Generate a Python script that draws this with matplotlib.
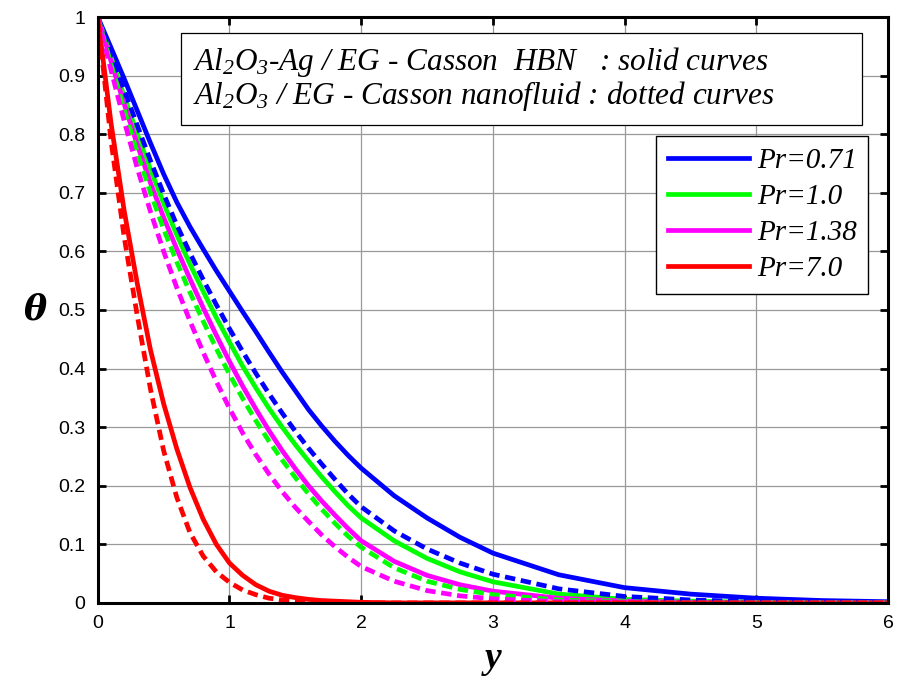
import matplotlib
matplotlib.use("Agg")
import matplotlib.pyplot as plt
from matplotlib.patches import Rectangle

# sampled y positions
y = [0, 0.1, 0.2, 0.3, 0.4, 0.5, 0.6, 0.7, 0.8, 0.9, 1.0, 1.1, 1.2, 1.3, 1.4, 1.5, 1.6, 1.7,
     1.8, 1.9, 2.0, 2.25, 2.5, 2.75, 3.0, 3.5, 4.0, 4.5, 5.0, 5.5, 6.0]

# Al2O3-Ag / EG - Casson HBN (solid)
hbn_071 = [1.0, 0.948, 0.895, 0.84, 0.785, 0.732, 0.684, 0.642, 0.604, 0.567, 0.532, 0.497,
           0.463, 0.428, 0.394, 0.362, 0.33, 0.302, 0.276, 0.252, 0.23, 0.183, 0.145, 0.112,
           0.085, 0.048, 0.026, 0.015, 0.008, 0.004, 0.002]
hbn_10 = [1.0, 0.932, 0.865, 0.8, 0.74, 0.682, 0.628, 0.578, 0.532, 0.487, 0.445, 0.404, 0.367,
          0.332, 0.3, 0.27, 0.242, 0.215, 0.19, 0.166, 0.145, 0.106, 0.076, 0.053, 0.036,
          0.015, 0.006, 0.003, 0.001, 0.0, 0.0]
hbn_138 = [1.0, 0.925, 0.852, 0.782, 0.717, 0.658, 0.604, 0.553, 0.504, 0.457, 0.412, 0.37,
           0.331, 0.294, 0.26, 0.229, 0.2, 0.174, 0.15, 0.127, 0.106, 0.071, 0.047, 0.031, 0.02,
           0.008, 0.003, 0.001, 0.0, 0.0, 0.0]
hbn_70 = [1.0, 0.82, 0.67, 0.545, 0.432, 0.34, 0.263, 0.197, 0.143, 0.1, 0.068, 0.047, 0.031,
          0.02, 0.013, 0.009, 0.006, 0.004, 0.003, 0.002, 0.001, 0.0, 0.0, 0.0, 0.0, 0.0, 0.0,
          0.0, 0.0, 0.0, 0.0]

# Al2O3 / EG - Casson nanofluid (dashed)
nf_071 = [1.0, 0.938, 0.876, 0.815, 0.755, 0.698, 0.645, 0.597, 0.552, 0.509, 0.468, 0.429,
          0.392, 0.357, 0.324, 0.293, 0.264, 0.237, 0.211, 0.186, 0.164, 0.123, 0.092, 0.068,
          0.049, 0.024, 0.011, 0.005, 0.002, 0.001, 0.0]
nf_10 = [1.0, 0.92, 0.842, 0.768, 0.7, 0.638, 0.582, 0.53, 0.481, 0.434, 0.39, 0.349, 0.311,
         0.276, 0.244, 0.214, 0.186, 0.16, 0.136, 0.114, 0.095, 0.06, 0.037, 0.023, 0.014,
         0.005, 0.002, 0.0, 0.0, 0.0, 0.0]
nf_138 = [1.0, 0.91, 0.823, 0.742, 0.668, 0.6, 0.538, 0.481, 0.428, 0.378, 0.332, 0.29, 0.253,
          0.22, 0.19, 0.163, 0.139, 0.116, 0.096, 0.078, 0.062, 0.037, 0.021, 0.012, 0.007,
          0.002, 0.001, 0.0, 0.0, 0.0, 0.0]
nf_70 = [1.0, 0.79, 0.625, 0.49, 0.365, 0.26, 0.18, 0.12, 0.08, 0.053, 0.035, 0.022, 0.014,
         0.008, 0.005, 0.003, 0.002, 0.001, 0.0, 0.0, 0.0, 0.0, 0.0, 0.0, 0.0, 0.0, 0.0, 0.0,
         0.0, 0.0, 0.0]

labels = ["Pr=0.71", "Pr=1.0", "Pr=1.38", "Pr=7.0"]
colors = ["#0000ff", "#00ff00", "#ff00ff", "#ff0000"]
solid = [hbn_071, hbn_10, hbn_138, hbn_70]
dashed = [nf_071, nf_10, nf_138, nf_70]

xticks = [0, 1, 2, 3, 4, 5, 6]
yticks = [0, 0.1, 0.2, 0.3, 0.4, 0.5, 0.6, 0.7, 0.8, 0.9, 1]
ytick_labels = ["0", "0.1", "0.2", "0.3", "0.4", "0.5", "0.6", "0.7", "0.8", "0.9", "1"]

plt.rcParams["mathtext.fontset"] = "custom"
plt.rcParams["mathtext.it"] = "Liberation Serif:italic"
plt.rcParams["mathtext.rm"] = "Liberation Serif:italic"

fig = plt.figure(figsize=(8.97, 6.82), dpi=100)
ax = fig.add_axes([0.109, 0.116, 0.881, 0.859])

lines = []
for vals, c, lab in zip(solid, colors, labels):
    ln, = ax.plot(y, vals, color=c, lw=3.4, label=lab, solid_joinstyle="round")
    lines.append(ln)
for vals, c in zip(dashed, colors):
    ax.plot(y, vals, color=c, lw=3.4, dashes=(2.2, 1.2))

ax.set_xlim(0, 6)
ax.set_ylim(0, 1)
ax.set_xticks(xticks)
ax.set_yticks(yticks)
ax.set_yticklabels(ytick_labels)
ax.grid(True, color="0.6", lw=0.9)
ax.set_axisbelow(True)
for s in ax.spines.values():
    s.set_linewidth(2.2)
ax.tick_params(direction="in", length=6, width=2, top=True, right=True,
               labelsize=14, pad=9)
for t in ax.get_xticklabels() + ax.get_yticklabels():
    t.set_family("Liberation Sans")

ax.set_xlabel("y", family="Liberation Serif", fontsize=27, fontweight="bold",
              fontstyle="italic", labelpad=6)
ax.set_ylabel("θ", family="DejaVu Serif", fontsize=25, fontweight="bold",
              fontstyle="italic", rotation=0, labelpad=16, va="center")

# note box
ax.add_patch(Rectangle((0.105, 0.816), 0.862, 0.157, transform=ax.transAxes,
                       fc="white", ec="black", lw=0.9, zorder=5))
note_kw = dict(transform=ax.transAxes, family="Liberation Serif", fontstyle="italic",
               fontsize=22.5, va="baseline", ha="left", zorder=6)
ax.text(0.12, 0.909, r"$Al_2O_3$-Ag / EG - Casson  HBN   : solid curves", **note_kw)
ax.text(0.12, 0.851, r"$Al_2O_3$ / EG - Casson nanofluid : dotted curves", **note_kw)

leg = ax.legend(handles=lines, loc="upper right", bbox_to_anchor=(0.975, 0.797),
                borderaxespad=0, fancybox=False, framealpha=1, edgecolor="black",
                prop={"family": "Liberation Serif", "style": "italic", "size": 21},
                handlelength=2.8, handletextpad=0.25, labelspacing=0.33, borderpad=0.4)
leg.get_frame().set_linewidth(1.0)
leg.set_zorder(6)

fig.savefig("out.png", dpi=100)
